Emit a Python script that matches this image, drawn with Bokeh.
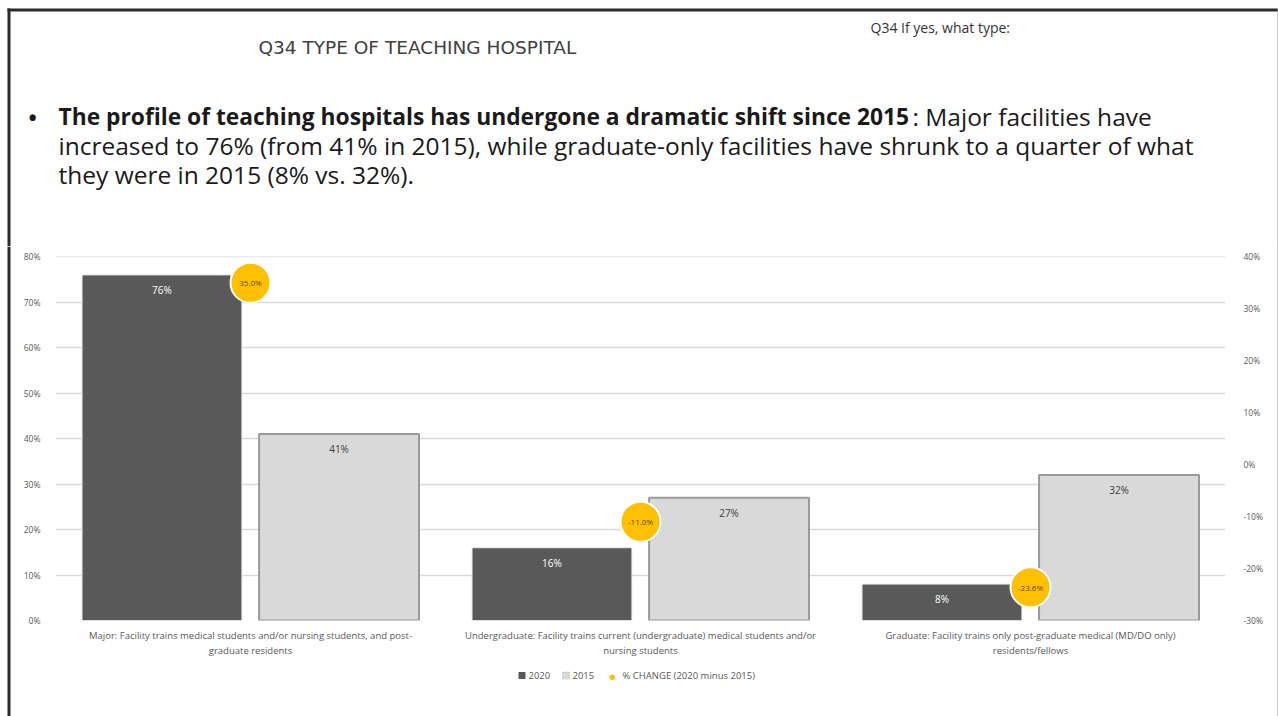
from bokeh.plotting import figure
from bokeh.layouts import column, row
from bokeh.models import (FactorRange, Range1d, LinearAxis, FixedTicker, NumeralTickFormatter,
                          ColumnDataSource, Label, BoxAnnotation)
from bokeh.transform import dodge
from bokeh.core.properties import value
from bokeh.embed import file_html
from bokeh.resources import INLINE

# ---------------- data ----------------
categories = [
    "Major: Facility trains medical students and/or nursing students, and post-\ngraduate residents",
    "Undergraduate: Facility trains current (undergraduate) medical students and/or\nnursing students",
    "Graduate: Facility trains only post-graduate medical (MD/DO only)\nresidents/fellows",
]
values_2020 = [0.76, 0.16, 0.08]
values_2015 = [0.41, 0.27, 0.32]
pct_change = [0.350, -0.110, -0.236]
left_ticks = [0.0, 0.1, 0.2, 0.3, 0.4, 0.5, 0.6, 0.7, 0.8]
right_ticks = [-0.3, -0.2, -0.1, 0.0, 0.1, 0.2, 0.3, 0.4]
series_names = ["2020", "2015", "% CHANGE (2020 minus 2015)"]

FONT = "Open Sans"
W, H = 1278, 716
HEAD_H = 246            # header band height (page y 0..246)
FOOT_H = 50             # footer band height (page y 666..716)
STRIP_L = 11            # left border strip width
STRIP_R = 2             # right border strip width
FL, FR, FT, FB = 55, 1225, 256, 620   # frame edges on the page
BORDER = "#2b2b2b"


def bare_fig(w, h):
    f = figure(width=w, height=h, x_range=(0, w), y_range=(0, h), output_backend="svg",
               toolbar_location=None, x_axis_location=None, y_axis_location=None,
               min_border=0, min_border_left=0, min_border_right=0, min_border_top=0,
               min_border_bottom=0)
    f.outline_line_color = None
    f.xgrid.visible = False
    f.ygrid.visible = False
    f.background_fill_color = "white"
    f.border_fill_color = "white"
    return f


def box(f, left, right, top, bottom, color, line=None):
    hgt = f.height
    f.add_layout(BoxAnnotation(left=left, right=right, top=hgt - top, bottom=hgt - bottom,
                               left_units="screen", right_units="screen", top_units="screen",
                               bottom_units="screen", fill_color=color, fill_alpha=1,
                               line_color=line, line_width=1))


def label(f, text, X, Y, size, color="#1a1a1a", bold=False, font=FONT, align="left"):
    f.add_layout(Label(x=X, y=f.height - Y, x_units="screen", y_units="screen", text=text,
                       text_font=font, text_font_size=size, text_color=color,
                       text_font_style="bold" if bold else "normal",
                       text_baseline="middle", text_align=align))


# ---------------- header ----------------
head = bare_fig(W, HEAD_H)
box(head, 7, W, 8, 11, BORDER)
box(head, 7, 10, 8, HEAD_H, BORDER)
box(head, W - 1, W, 8, HEAD_H, "#9a9a9a")

label(head, "Q34  TYPE OF TEACHING HOSPITAL", 258, 47, "18.5px", "#404040", font="DejaVu Sans")
label(head, "Q34  If yes, what type:", 870, 27, "14px", "#333333")
label(head, "\u2022", 28, 116, "22px", bold=True)
label(head, "The profile of teaching hospitals has undergone a dramatic shift since 2015", 58, 116,
      "22.8px", bold=True)
label(head, ":  Major facilities have", 912, 116, "24.5px")
label(head, "increased to 76% (from 41% in 2015), while graduate-only facilities have shrunk to a quarter of what",
      58, 145, "24.5px")
label(head, "they were in 2015 (8% vs. 32%).", 58, 174, "24.5px")

# ---------------- chart ----------------
CH_H = H - HEAD_H - FOOT_H
CW = W - STRIP_L - STRIP_R
Y_END = 0.8005
R_END = -0.3 + 0.7 / 0.8 * Y_END

src = ColumnDataSource(dict(
    cat=categories,
    v20=values_2020,
    v15=values_2015,
    ch=pct_change,
    l20=[f"{v*100:.0f}%" for v in values_2020],
    l15=[f"{v*100:.0f}%" for v in values_2015],
    lch=[f"{v*100:.1f}%" for v in pct_change],
))

p = figure(width=CW, height=CH_H, x_range=FactorRange(*categories, range_padding=0.0),
           y_range=Range1d(0, Y_END), output_backend="svg", toolbar_location=None,
           min_border_left=FL - STRIP_L, min_border_right=(W - STRIP_R) - FR,
           min_border_top=FT - HEAD_H, min_border_bottom=(H - FOOT_H) - FB)
p.x_range.factor_padding = 0
p.outline_line_color = None
p.background_fill_color = "white"
p.border_fill_color = "white"

p.xgrid.grid_line_color = None
p.ygrid.grid_line_color = "#d9d9d9"
p.ygrid.grid_line_width = 1.5
p.ygrid.ticker = FixedTicker(ticks=left_ticks)

ay = p.yaxis[0]
ay.ticker = FixedTicker(ticks=left_ticks)
ay.formatter = NumeralTickFormatter(format="0%")
ay.axis_line_color = None
ay.major_tick_line_color = None
ay.minor_tick_line_color = None
ay.major_label_text_font = FONT
ay.major_label_text_font_size = "8.5px"
ay.major_label_text_color = "#595959"
ay.major_label_standoff = 9

p.extra_y_ranges = {"chg": Range1d(-0.3, R_END)}
ar = LinearAxis(y_range_name="chg", ticker=FixedTicker(ticks=right_ticks),
                formatter=NumeralTickFormatter(format="0%"))
ar.axis_line_color = None
ar.major_tick_line_color = None
ar.minor_tick_line_color = None
ar.major_label_text_font = FONT
ar.major_label_text_font_size = "8.5px"
ar.major_label_text_color = "#595959"
ar.major_label_standoff = 12
p.add_layout(ar, "right")

ax = p.xaxis[0]
ax.axis_line_color = None
ax.major_tick_line_color = None
ax.minor_tick_line_color = None
ax.major_label_text_font = FONT
ax.major_label_text_font_size = "9.5px"
ax.major_label_text_color = "#595959"
ax.major_label_standoff = 2

r20 = p.vbar(x=dodge("cat", -0.227, range=p.x_range), top="v20", width=0.41, source=src,
             fill_color="#595959", line_color="#e8e8e8", line_width=1)
r15 = p.vbar(x=dodge("cat", 0.227, range=p.x_range), top="v15", width=0.41, source=src,
             fill_color="#d9d9d9", line_color="#9a9a9a", line_width=2)

p.text(x=dodge("cat", -0.227, range=p.x_range), y="v20", text="l20", source=src,
       text_align="center", text_baseline="top", y_offset=8, text_font=value(FONT),
       text_font_size="10px", text_color="white")
p.text(x=dodge("cat", 0.227, range=p.x_range), y="v15", text="l15", source=src,
       text_align="center", text_baseline="top", y_offset=8, text_font=value(FONT),
       text_font_size="10px", text_color="#404040")

rch = p.scatter(x="cat", y="ch", y_range_name="chg", source=src, size=40, marker="circle",
                fill_color="#ffc000", line_color="white", line_width=2)
p.text(x="cat", y="ch", y_range_name="chg", text="lch", source=src, text_align="center",
       text_baseline="middle", text_font=value(FONT), text_font_size="8px",
       text_color="#5a4700")

# ---------------- footer (legend) ----------------
foot = bare_fig(CW, FOOT_H)
LY = 675 - (H - FOOT_H)   # legend row centre inside footer


def fx(X):
    # the footer's frame is aligned with the chart frame by the column layout
    return X - FL


box(foot, fx(518), fx(525), LY - 3.5, LY + 3.5, "#595959")
label(foot, series_names[0], fx(528), LY, "9.5px", "#595959")
box(foot, fx(562), fx(569), LY - 3.5, LY + 3.5, "#d9d9d9", line="#9a9a9a")
label(foot, series_names[1], fx(572), LY, "9.5px", "#595959")
label(foot, "\u25CF", fx(608), LY, "13px", "#ffc000")
label(foot, series_names[2], fx(622), LY, "9.5px", "#595959")

# ---------------- border strips ----------------
LOW_H = H - HEAD_H
left_strip = bare_fig(STRIP_L, LOW_H)
box(left_strip, 7, 10, 0, LOW_H, BORDER)
right_strip = bare_fig(STRIP_R, LOW_H)
box(right_strip, 1, 2, 0, LOW_H, "#9a9a9a")

layout = column(head, row(left_strip, column(p, foot, spacing=0), right_strip, spacing=0),
                spacing=0)
open("out.html", "w").write(file_html(layout, INLINE))
